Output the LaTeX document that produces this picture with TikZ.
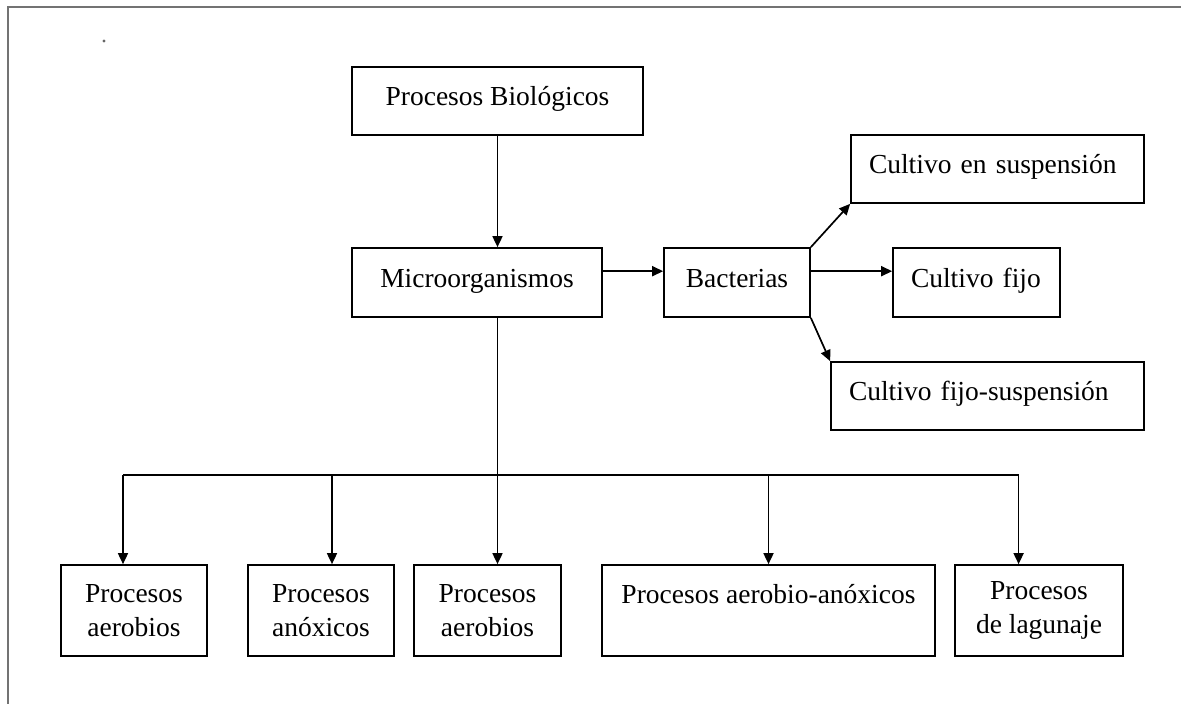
\documentclass[tikz,border=0pt]{standalone}
\usepackage{fontspec}
\setmainfont{Liberation Serif}
\usetikzlibrary{arrows.meta,calc}
\begin{document}
\begin{tikzpicture}[x=1pt,y=-1pt,
  box/.style={draw=black, line width=1.7pt, inner sep=0pt,
              font=\fontsize{27.5}{34}\selectfont},
  one/.style={box, text height=18pt, text depth=9pt, align=center},
  lbox/.style={box, text height=18pt, text depth=9pt, align=left, inner xsep=18pt},
  two/.style={box, align=center, minimum height=91pt},
  link/.style={line width=1.7pt, draw=black},
  arr/.style={link, -{Triangle[length=11pt,width=10pt]}},
  frame/.style={line width=2pt, draw=black!55}]
\useasboundingbox (0,0) rectangle (1181,704);

% page frame (left and top edges) and a small mark
\draw[frame] (8,704) -- (8,7) -- (1181,7);
\fill[black!60] (104,41) circle (1.6pt);

% upper boxes
\node[one, minimum width=291pt, minimum height=68pt] (PB) at (497.5,101) {Procesos Biológicos};
\node[one, minimum width=250pt, minimum height=69pt] (MO) at (477,282.5) {Microorganismos};
\node[one, minimum width=146pt, minimum height=69pt] (BA) at (737,282.5) {Bacterias};
\node[lbox, text width=257pt, minimum height=68pt] (CS) at (997.5,169) {Cultivo en suspensión};
\node[lbox, text width=131pt, minimum height=69pt] (CF) at (976.5,282.5) {Cultivo fijo};
\node[lbox, text width=277pt, minimum height=68pt] (CFS) at (987.5,396) {Cultivo fijo-suspensión};

% lower row of process boxes
\node[two, minimum width=146pt] (B1) at (134,610.5) {Procesos\\aerobios};
\node[two, minimum width=146pt] (B2) at (321,610.5) {Procesos\\anóxicos};
\node[two, minimum width=147pt] (B3) at (487.5,610.5) {Procesos\\aerobios};
\node[box, text height=20pt, text depth=35pt, minimum width=333pt, minimum height=91pt] (B4) at (768.5,610.5) {Procesos aerobio-anóxicos};
\node[two, minimum width=168pt] (B5) at (1039,610.5) {Procesos\\de lagunaje};

% junctions on the distribution bus
\coordinate (j1) at (123,475);
\coordinate (j2) at (332,475);
\coordinate (j3) at (497.5,475);
\coordinate (j4) at (768.5,475);
\coordinate (j5) at (1018.6,475);

% connectors
\draw[arr] (PB.south) -- (PB.south |- MO.north);
\draw[link] (PB.south |- MO.south) -- (j3);
\draw[link] (j1) -- (j5);
\foreach \j/\b in {j1/B1,j2/B2,j3/B3,j4/B4,j5/B5}
  \draw[arr] (\j) -- (\j |- \b.north);

\draw[arr] ($(MO.north east)!0.34!(MO.south east)$) -- ($(BA.north west)!0.34!(BA.south west)$);
\draw[arr] ($(BA.north east)!0.34!(BA.south east)$) -- ($(CF.north west)!0.34!(CF.south west)$);
\draw[arr] (BA.north east) -- (CS.south west);
\draw[arr] (BA.south east) -- (CFS.north west);
\end{tikzpicture}
\end{document}
